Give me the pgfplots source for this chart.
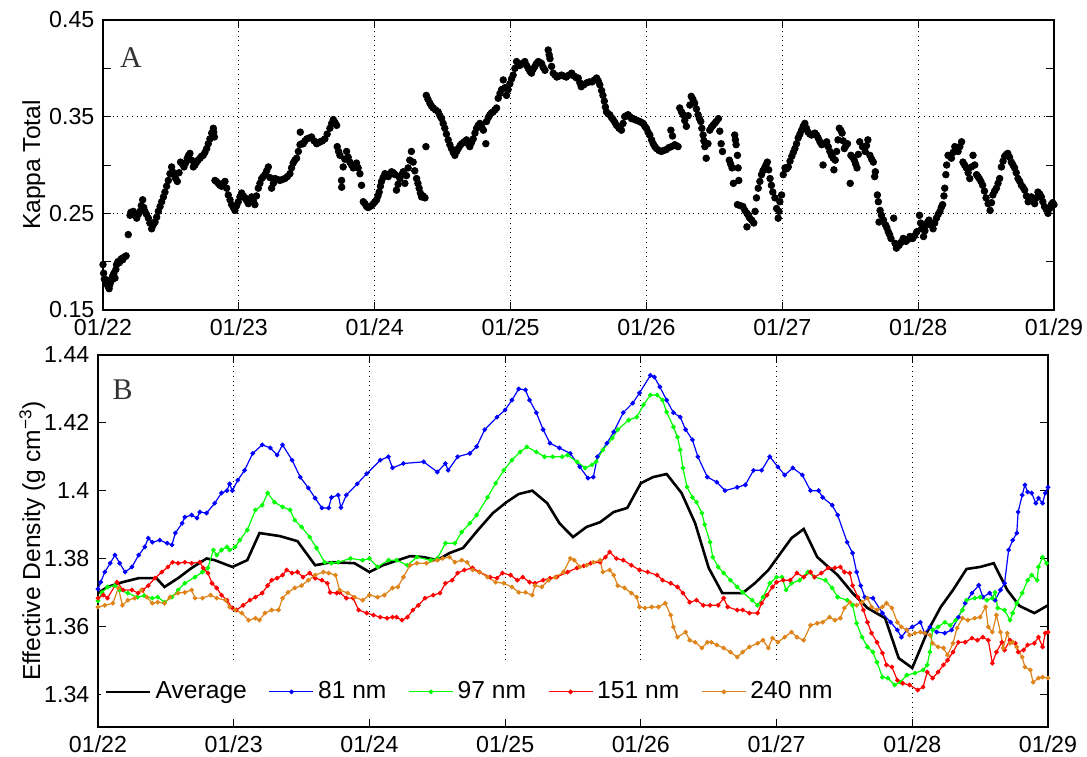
\documentclass[border=0pt]{standalone}
\usepackage{fontspec}
\setmainfont{Liberation Sans}
\newfontfamily\seriffont{Liberation Serif}
\usepackage{pgfplots}
\pgfplotsset{compat=1.18}
\definecolor{c81}{rgb}{0,0,1}
\definecolor{c97}{rgb}{0,1,0}
\definecolor{c151}{rgb}{1,0,0}
\definecolor{c240}{RGB}{222,132,26}
\newcommand{\tickfs}{\fontsize{11.6}{13}\selectfont}
\newcommand{\mainfs}{\fontsize{12.3}{14}\selectfont}

\pgfplotstableread{
x y
0.000 0.197
0.005 0.188
0.010 0.182
0.020 0.178
0.027 0.181
0.035 0.175
0.045 0.172
0.050 0.176
0.060 0.180
0.070 0.185
0.080 0.188
0.088 0.183
0.095 0.192
0.100 0.197
0.110 0.200
0.120 0.199
0.125 0.201
0.135 0.203
0.145 0.202
0.150 0.204
0.160 0.205
0.170 0.206
0.186 0.228
0.199 0.248
0.205 0.251
0.215 0.250
0.223 0.252
0.235 0.248
0.248 0.245
0.260 0.249
0.272 0.252
0.282 0.258
0.292 0.264
0.300 0.256
0.309 0.252
0.320 0.249
0.334 0.245
0.345 0.240
0.358 0.234
0.370 0.238
0.383 0.241
0.395 0.246
0.407 0.252
0.420 0.257
0.432 0.262
0.445 0.267
0.456 0.272
0.468 0.278
0.481 0.284
0.493 0.291
0.505 0.298
0.512 0.293
0.522 0.290
0.535 0.286
0.547 0.283
0.560 0.292
0.571 0.303
0.585 0.301
0.596 0.298
0.608 0.302
0.620 0.307
0.630 0.310
0.640 0.312
0.652 0.305
0.665 0.298
0.677 0.300
0.689 0.303
0.700 0.305
0.714 0.307
0.725 0.309
0.738 0.310
0.750 0.313
0.763 0.317
0.775 0.322
0.787 0.327
0.800 0.333
0.812 0.338
0.815 0.334
0.820 0.329
0.824 0.284
0.835 0.283
0.849 0.281
0.860 0.279
0.873 0.278
0.885 0.281
0.898 0.283
0.910 0.276
0.922 0.269
0.935 0.264
0.947 0.259
0.960 0.256
0.971 0.253
0.984 0.258
0.996 0.262
1.008 0.267
1.020 0.271
1.033 0.268
1.045 0.266
1.058 0.263
1.070 0.260
1.082 0.264
1.094 0.267
1.106 0.263
1.118 0.259
1.130 0.268
1.143 0.276
1.155 0.281
1.168 0.286
1.180 0.288
1.192 0.290
1.205 0.294
1.217 0.298
1.229 0.287
1.241 0.276
1.254 0.281
1.266 0.286
1.284 0.285
1.302 0.284
1.320 0.285
1.339 0.286
1.357 0.288
1.376 0.291
1.388 0.297
1.400 0.302
1.412 0.305
1.425 0.307
1.438 0.314
1.450 0.321
1.452 0.334
1.462 0.322
1.474 0.322
1.487 0.325
1.500 0.327
1.518 0.328
1.535 0.329
1.553 0.325
1.572 0.322
1.585 0.323
1.597 0.324
1.615 0.325
1.633 0.327
1.650 0.332
1.670 0.338
1.683 0.343
1.695 0.347
1.708 0.344
1.720 0.341
1.724 0.319
1.734 0.314
1.744 0.310
1.756 0.284
1.757 0.277
1.768 0.298
1.780 0.306
1.793 0.314
1.805 0.308
1.817 0.303
1.830 0.300
1.842 0.297
1.854 0.300
1.866 0.302
1.878 0.297
1.891 0.291
1.903 0.279
1.916 0.262
1.928 0.260
1.940 0.257
1.952 0.256
1.965 0.257
1.977 0.258
1.990 0.260
2.002 0.262
2.014 0.264
2.024 0.268
2.033 0.272
2.042 0.278
2.050 0.283
2.062 0.287
2.075 0.291
2.088 0.289
2.100 0.288
2.112 0.291
2.124 0.293
2.137 0.292
2.150 0.290
2.160 0.274
2.172 0.280
2.185 0.286
2.198 0.290
2.210 0.293
2.222 0.281
2.234 0.289
2.246 0.297
2.258 0.305
2.270 0.314
2.283 0.303
2.295 0.294
2.308 0.286
2.318 0.281
2.327 0.276
2.336 0.271
2.345 0.267
2.357 0.268
2.370 0.266
2.377 0.319
2.380 0.372
2.392 0.368
2.406 0.364
2.418 0.361
2.430 0.359
2.448 0.357
2.467 0.355
2.480 0.351
2.492 0.348
2.504 0.343
2.516 0.338
2.528 0.332
2.541 0.326
2.553 0.321
2.565 0.317
2.578 0.313
2.590 0.310
2.603 0.314
2.615 0.317
2.628 0.320
2.640 0.322
2.658 0.324
2.676 0.326
2.688 0.322
2.700 0.319
2.712 0.323
2.725 0.327
2.738 0.333
2.750 0.338
2.762 0.341
2.774 0.343
2.787 0.340
2.800 0.336
2.818 0.322
2.823 0.345
2.836 0.349
2.848 0.352
2.860 0.354
2.872 0.355
2.885 0.357
2.897 0.359
2.909 0.369
2.922 0.374
2.934 0.378
2.946 0.388
2.958 0.380
2.970 0.372
2.982 0.378
2.995 0.384
3.007 0.389
3.019 0.393
3.032 0.400
3.044 0.407
3.056 0.405
3.068 0.403
3.086 0.405
3.105 0.407
3.118 0.403
3.130 0.400
3.142 0.397
3.154 0.395
3.166 0.399
3.179 0.402
3.191 0.405
3.204 0.407
3.216 0.406
3.228 0.405
3.240 0.401
3.253 0.398
3.277 0.419
3.284 0.414
3.290 0.410
3.302 0.402
3.314 0.395
3.327 0.393
3.340 0.391
3.358 0.392
3.375 0.393
3.392 0.392
3.410 0.391
3.430 0.393
3.450 0.395
3.468 0.392
3.485 0.390
3.498 0.390
3.510 0.385
3.520 0.381
3.540 0.383
3.560 0.385
3.580 0.386
3.600 0.386
3.617 0.388
3.633 0.390
3.645 0.387
3.657 0.383
3.670 0.377
3.680 0.372
3.690 0.366
3.698 0.360
3.706 0.355
3.718 0.353
3.730 0.352
3.743 0.349
3.755 0.347
3.768 0.344
3.780 0.341
3.798 0.338
3.816 0.336
3.828 0.343
3.840 0.350
3.852 0.351
3.865 0.352
3.878 0.350
3.890 0.348
3.902 0.348
3.914 0.347
3.932 0.346
3.950 0.345
3.963 0.344
3.976 0.343
3.988 0.340
4.000 0.338
4.012 0.334
4.025 0.331
4.038 0.326
4.050 0.322
4.062 0.319
4.074 0.317
4.092 0.315
4.110 0.314
4.128 0.315
4.147 0.316
4.165 0.318
4.184 0.319
4.180 0.336
4.192 0.330
4.208 0.321
4.220 0.320
4.233 0.319
4.245 0.359
4.258 0.355
4.270 0.352
4.282 0.346
4.294 0.340
4.307 0.351
4.320 0.362
4.330 0.371
4.342 0.368
4.355 0.364
4.368 0.358
4.380 0.352
4.390 0.348
4.400 0.345
4.408 0.338
4.417 0.331
4.423 0.325
4.430 0.319
4.440 0.307
4.453 0.322
4.466 0.336
4.478 0.339
4.490 0.341
4.502 0.343
4.514 0.345
4.530 0.348
4.540 0.335
4.550 0.322
4.560 0.314
4.610 0.305
4.620 0.301
4.630 0.297
4.640 0.281
4.650 0.331
4.655 0.326
4.660 0.321
4.670 0.310
4.675 0.297
4.680 0.284
4.670 0.259
4.690 0.258
4.710 0.257
4.725 0.253
4.740 0.250
4.740 0.236
4.750 0.248
4.760 0.245
4.775 0.243
4.790 0.240
4.800 0.252
4.810 0.266
4.823 0.276
4.835 0.283
4.847 0.290
4.858 0.294
4.870 0.297
4.880 0.300
4.890 0.303
4.900 0.295
4.910 0.286
4.920 0.279
4.930 0.272
4.946 0.266
4.958 0.255
4.970 0.245
4.976 0.252
4.982 0.262
4.995 0.269
5.007 0.290
5.020 0.297
5.032 0.296
5.044 0.298
5.057 0.304
5.070 0.309
5.081 0.313
5.093 0.317
5.105 0.322
5.117 0.328
5.130 0.332
5.142 0.336
5.154 0.340
5.166 0.343
5.178 0.338
5.190 0.334
5.203 0.332
5.215 0.331
5.228 0.332
5.240 0.333
5.252 0.331
5.264 0.328
5.277 0.324
5.290 0.321
5.300 0.300
5.310 0.322
5.327 0.324
5.338 0.319
5.350 0.314
5.362 0.310
5.375 0.307
5.380 0.295
5.390 0.305
5.400 0.314
5.410 0.326
5.420 0.338
5.430 0.336
5.440 0.333
5.448 0.325
5.457 0.317
5.468 0.320
5.480 0.322
5.500 0.281
5.505 0.310
5.518 0.308
5.530 0.305
5.540 0.301
5.550 0.297
5.560 0.311
5.570 0.324
5.590 0.319
5.610 0.314
5.620 0.320
5.630 0.326
5.645 0.310
5.658 0.306
5.670 0.303
5.680 0.288
5.685 0.293
5.700 0.269
5.707 0.262
5.712 0.241
5.720 0.253
5.730 0.248
5.745 0.243
5.760 0.238
5.770 0.235
5.780 0.231
5.790 0.228
5.800 0.224
5.820 0.245
5.830 0.219
5.840 0.214
5.850 0.216
5.860 0.217
5.875 0.220
5.890 0.224
5.900 0.222
5.910 0.221
5.925 0.223
5.940 0.226
5.950 0.225
5.960 0.224
5.975 0.227
5.990 0.231
6.010 0.248
6.018 0.240
6.025 0.234
6.040 0.226
6.050 0.232
6.060 0.238
6.070 0.241
6.080 0.243
6.095 0.238
6.110 0.234
6.122 0.240
6.135 0.245
6.148 0.249
6.160 0.252
6.170 0.256
6.180 0.259
6.190 0.268
6.196 0.276
6.204 0.290
6.210 0.300
6.220 0.310
6.232 0.309
6.245 0.307
6.258 0.313
6.270 0.319
6.282 0.316
6.294 0.314
6.307 0.319
6.320 0.324
6.330 0.303
6.342 0.300
6.355 0.297
6.368 0.292
6.380 0.286
6.392 0.298
6.404 0.310
6.417 0.300
6.430 0.290
6.440 0.288
6.450 0.286
6.462 0.283
6.475 0.279
6.488 0.273
6.500 0.266
6.515 0.260
6.530 0.253
6.540 0.261
6.550 0.269
6.563 0.273
6.576 0.276
6.588 0.281
6.600 0.286
6.613 0.298
6.625 0.304
6.637 0.309
6.650 0.311
6.660 0.312
6.673 0.308
6.686 0.303
6.698 0.300
6.710 0.297
6.722 0.292
6.735 0.286
6.748 0.283
6.760 0.279
6.772 0.277
6.784 0.274
6.797 0.268
6.810 0.262
6.822 0.265
6.833 0.267
6.845 0.264
6.858 0.260
6.870 0.266
6.882 0.272
6.895 0.270
6.907 0.267
6.918 0.262
6.930 0.257
6.943 0.254
6.956 0.250
6.968 0.255
6.980 0.259
6.990 0.261
7.000 0.259
}\kappadata

\pgfplotstableread{
x y
0.00 1.3698
0.07 1.3716
0.18 1.3730
0.30 1.3742
0.43 1.3742
0.49 1.3716
0.59 1.3742
0.69 1.3772
0.80 1.3800
0.86 1.3795
0.99 1.3775
1.10 1.3795
1.19 1.3875
1.34 1.3866
1.47 1.3851
1.60 1.3780
1.72 1.3789
1.89 1.3786
2.00 1.3760
2.10 1.3780
2.30 1.3807
2.40 1.3804
2.50 1.3795
2.59 1.3816
2.69 1.3831
2.80 1.3884
2.91 1.3934
3.01 1.3966
3.10 1.3990
3.20 1.4000
3.31 1.3963
3.40 1.3904
3.50 1.3863
3.60 1.3893
3.70 1.3907
3.80 1.3937
3.90 1.3949
4.00 1.4022
4.09 1.4040
4.19 1.4049
4.30 1.3993
4.40 1.3904
4.50 1.3772
4.60 1.3698
4.75 1.3698
4.84 1.3727
4.94 1.3766
5.03 1.3816
5.11 1.3860
5.20 1.3887
5.30 1.3804
5.45 1.3751
5.56 1.3698
5.67 1.3654
5.80 1.3624
5.90 1.3506
6.00 1.3477
6.11 1.3583
6.21 1.3657
6.30 1.3707
6.40 1.3769
6.50 1.3775
6.60 1.3786
6.70 1.3707
6.79 1.3660
6.90 1.3639
7.00 1.3662
}\avgdata

\pgfplotstableread{
x y
0.00 1.3710
0.02 1.3730
0.05 1.3760
0.09 1.3786
0.125 1.3810
0.16 1.3786
0.20 1.3760
0.25 1.3775
0.30 1.3810
0.345 1.3834
0.37 1.3860
0.40 1.3848
0.455 1.3854
0.51 1.3845
0.545 1.3840
0.57 1.3875
0.62 1.3904
0.64 1.3922
0.69 1.3928
0.73 1.3919
0.75 1.3937
0.80 1.3934
0.86 1.3963
0.91 1.3993
0.95 1.4000
0.97 1.4020
0.99 1.4000
1.03 1.4031
1.08 1.4060
1.14 1.4110
1.21 1.4135
1.27 1.4126
1.32 1.4105
1.36 1.4135
1.43 1.4090
1.49 1.4040
1.55 1.4008
1.60 1.3978
1.65 1.3949
1.70 1.3949
1.72 1.3980
1.77 1.3987
1.79 1.3950
1.83 1.3987
1.91 1.4020
1.98 1.4050
2.08 1.4090
2.14 1.4100
2.17 1.4067
2.25 1.4080
2.40 1.4085
2.50 1.4055
2.56 1.4080
2.58 1.4060
2.65 1.4100
2.74 1.4110
2.79 1.4130
2.85 1.4180
2.94 1.4217
3.00 1.4238
3.05 1.4267
3.10 1.4300
3.15 1.4297
3.18 1.4267
3.23 1.4230
3.28 1.4180
3.33 1.4140
3.40 1.4126
3.48 1.4110
3.55 1.4070
3.61 1.4037
3.65 1.4040
3.68 1.4100
3.75 1.4140
3.80 1.4173
3.87 1.4230
3.94 1.4258
3.99 1.4288
4.07 1.4340
4.10 1.4335
4.14 1.4306
4.19 1.4267
4.24 1.4230
4.29 1.4217
4.33 1.4180
4.38 1.4150
4.42 1.4100
4.49 1.4040
4.56 1.4025
4.62 1.4000
4.71 1.4010
4.77 1.4017
4.83 1.4060
4.89 1.4060
4.95 1.4100
5.01 1.4070
5.06 1.4046
5.12 1.4067
5.19 1.4046
5.25 1.4000
5.31 1.4000
5.34 1.3980
5.41 1.3957
5.45 1.3928
5.52 1.3848
5.56 1.3816
5.59 1.3760
5.62 1.3720
5.65 1.3686
5.71 1.3683
5.78 1.3639
5.84 1.3612
5.89 1.3589
5.92 1.3568
5.96 1.3589
6.00 1.3598
6.06 1.3612
6.09 1.3580
6.13 1.3598
6.18 1.3583
6.24 1.3580
6.29 1.3589
6.34 1.3627
6.39 1.3668
6.44 1.3698
6.49 1.3721
6.52 1.3686
6.57 1.3698
6.61 1.3677
6.65 1.3707
6.68 1.3727
6.71 1.3825
6.74 1.3854
6.77 1.3875
6.78 1.3937
6.81 1.3987
6.83 1.4017
6.85 1.3996
6.88 1.3993
6.91 1.3963
6.93 1.3978
6.96 1.3963
6.98 1.3993
7.00 1.4010
}\blue

\pgfplotstableread{
x y
0.00 1.3675
0.03 1.3700
0.07 1.3716
0.125 1.3720
0.16 1.3707
0.22 1.3698
0.29 1.3686
0.34 1.3690
0.40 1.3683
0.44 1.3686
0.49 1.3671
0.545 1.3686
0.59 1.3707
0.64 1.3727
0.715 1.3745
0.77 1.3760
0.81 1.3772
0.85 1.3825
0.875 1.3810
0.91 1.3825
0.95 1.3834
0.97 1.3825
1.01 1.3834
1.045 1.3854
1.10 1.3884
1.16 1.3943
1.21 1.3957
1.25 1.3993
1.30 1.3966
1.36 1.3952
1.415 1.3943
1.45 1.3913
1.50 1.3893
1.56 1.3863
1.61 1.3831
1.67 1.3789
1.72 1.3786
1.77 1.3789
1.86 1.3800
1.95 1.3795
2.00 1.3800
2.06 1.3775
2.14 1.3795
2.20 1.3795
2.28 1.3780
2.35 1.3804
2.45 1.3795
2.50 1.3800
2.56 1.3845
2.63 1.3845
2.68 1.3878
2.74 1.3904
2.79 1.3928
2.87 1.3980
2.93 1.4022
2.99 1.4060
3.05 1.4090
3.11 1.4114
3.16 1.4129
3.23 1.4114
3.29 1.4100
3.35 1.4100
3.42 1.4100
3.46 1.4105
3.53 1.4085
3.59 1.4067
3.64 1.4076
3.67 1.4085
3.72 1.4120
3.79 1.4155
3.83 1.4180
3.91 1.4208
3.97 1.4217
4.02 1.4253
4.07 1.4282
4.12 1.4282
4.16 1.4267
4.19 1.4232
4.24 1.4188
4.27 1.4158
4.29 1.4120
4.31 1.4067
4.34 1.4011
4.38 1.3980
4.41 1.3966
4.45 1.3934
4.47 1.3900
4.51 1.3848
4.53 1.3804
4.57 1.3775
4.61 1.3757
4.66 1.3736
4.71 1.3716
4.75 1.3700
4.82 1.3677
4.86 1.3662
4.90 1.3686
4.95 1.3727
5.00 1.3745
5.04 1.3745
5.07 1.3707
5.11 1.3727
5.17 1.3736
5.23 1.3760
5.28 1.3745
5.36 1.3736
5.41 1.3713
5.45 1.3686
5.52 1.3677
5.56 1.3662
5.59 1.3609
5.63 1.3568
5.67 1.3539
5.71 1.3524
5.74 1.3494
5.78 1.3450
5.82 1.3447
5.87 1.3427
5.91 1.3435
5.96 1.3456
6.02 1.3462
6.08 1.3471
6.11 1.3486
6.13 1.3524
6.15 1.3589
6.19 1.3598
6.24 1.3612
6.28 1.3603
6.32 1.3618
6.37 1.3648
6.40 1.3677
6.46 1.3683
6.50 1.3686
6.55 1.3677
6.59 1.3683
6.61 1.3700
6.63 1.3654
6.68 1.3648
6.72 1.3618
6.74 1.3639
6.77 1.3668
6.81 1.3698
6.85 1.3736
6.88 1.3751
6.92 1.3736
6.93 1.3775
6.96 1.3804
6.99 1.3786
}\green

\pgfplotstableread{
x y
0.00 1.3683
0.04 1.3692
0.07 1.3683
0.14 1.3730
0.185 1.3707
0.25 1.3707
0.295 1.3698
0.33 1.3707
0.37 1.3720
0.42 1.3742
0.47 1.3760
0.515 1.3775
0.55 1.3789
0.59 1.3786
0.64 1.3789
0.69 1.3786
0.75 1.3789
0.775 1.3772
0.81 1.3757
0.84 1.3727
0.875 1.3713
0.91 1.3692
0.95 1.3677
0.99 1.3654
1.02 1.3648
1.07 1.3662
1.12 1.3677
1.16 1.3686
1.21 1.3698
1.25 1.3720
1.28 1.3736
1.32 1.3742
1.36 1.3751
1.39 1.3766
1.43 1.3757
1.47 1.3760
1.51 1.3745
1.56 1.3757
1.60 1.3742
1.65 1.3736
1.69 1.3727
1.71 1.3700
1.76 1.3698
1.78 1.3700
1.83 1.3683
1.88 1.3683
1.92 1.3648
1.98 1.3639
2.03 1.3633
2.08 1.3627
2.13 1.3624
2.17 1.3627
2.20 1.3627
2.24 1.3618
2.28 1.3627
2.32 1.3648
2.36 1.3662
2.41 1.3683
2.47 1.3692
2.52 1.3698
2.56 1.3727
2.61 1.3736
2.65 1.3757
2.70 1.3766
2.76 1.3772
2.81 1.3760
2.89 1.3745
2.94 1.3742
2.98 1.3757
3.04 1.3751
3.09 1.3736
3.13 1.3745
3.18 1.3730
3.22 1.3727
3.28 1.3736
3.33 1.3742
3.38 1.3745
3.46 1.3760
3.53 1.3772
3.58 1.3778
3.63 1.3786
3.70 1.3789
3.74 1.3804
3.77 1.3819
3.82 1.3800
3.87 1.3795
3.93 1.3780
3.99 1.3766
4.05 1.3760
4.12 1.3751
4.16 1.3736
4.22 1.3727
4.27 1.3716
4.31 1.3698
4.36 1.3671
4.41 1.3677
4.46 1.3662
4.51 1.3662
4.57 1.3662
4.61 1.3683
4.64 1.3657
4.71 1.3648
4.75 1.3648
4.80 1.3639
4.86 1.3639
4.89 1.3668
4.93 1.3692
4.97 1.3716
5.00 1.3730
5.05 1.3736
5.10 1.3736
5.15 1.3757
5.20 1.3745
5.25 1.3760
5.28 1.3745
5.33 1.3757
5.38 1.3772
5.43 1.3772
5.47 1.3775
5.50 1.3760
5.54 1.3757
5.56 1.3720
5.60 1.3686
5.64 1.3648
5.67 1.3612
5.70 1.3580
5.74 1.3553
5.78 1.3521
5.81 1.3486
5.85 1.3480
5.89 1.3441
5.93 1.3432
5.98 1.3427
6.04 1.3412
6.08 1.3421
6.11 1.3465
6.15 1.3447
6.19 1.3465
6.23 1.3486
6.26 1.3500
6.30 1.3524
6.34 1.3553
6.39 1.3553
6.44 1.3565
6.48 1.3559
6.52 1.3568
6.56 1.3559
6.59 1.3491
6.62 1.3524
6.66 1.3553
6.68 1.3530
6.72 1.3559
6.76 1.3550
6.78 1.3524
6.82 1.3530
6.85 1.3545
6.90 1.3550
6.93 1.3568
6.96 1.3539
6.98 1.3580
7.00 1.3583
}\red

\pgfplotstableread{
x y
0.00 1.3657
0.05 1.3662
0.11 1.3668
0.15 1.3713
0.18 1.3662
0.22 1.3677
0.27 1.3683
0.32 1.3707
0.36 1.3686
0.40 1.3668
0.44 1.3671
0.49 1.3668
0.53 1.3686
0.59 1.3698
0.64 1.3700
0.69 1.3707
0.715 1.3683
0.77 1.3683
0.83 1.3692
0.875 1.3683
0.94 1.3677
0.97 1.3657
1.01 1.3648
1.06 1.3639
1.11 1.3618
1.16 1.3624
1.19 1.3618
1.23 1.3639
1.28 1.3648
1.33 1.3648
1.36 1.3683
1.40 1.3700
1.45 1.3713
1.50 1.3720
1.55 1.3736
1.60 1.3751
1.66 1.3760
1.70 1.3757
1.75 1.3751
1.78 1.3707
1.84 1.3698
1.89 1.3686
1.95 1.3677
2.00 1.3692
2.06 1.3686
2.11 1.3692
2.17 1.3713
2.21 1.3716
2.25 1.3745
2.30 1.3780
2.35 1.3786
2.42 1.3786
2.50 1.3795
2.54 1.3800
2.59 1.3804
2.63 1.3789
2.68 1.3795
2.72 1.3789
2.76 1.3766
2.81 1.3760
2.87 1.3745
2.93 1.3730
2.99 1.3727
3.05 1.3716
3.10 1.3700
3.15 1.3700
3.20 1.3692
3.22 1.3720
3.27 1.3716
3.32 1.3736
3.37 1.3745
3.43 1.3760
3.48 1.3800
3.51 1.3795
3.55 1.3775
3.60 1.3780
3.65 1.3789
3.70 1.3795
3.72 1.3760
3.77 1.3766
3.80 1.3751
3.83 1.3720
3.88 1.3713
3.93 1.3698
3.97 1.3686
3.99 1.3657
4.03 1.3654
4.08 1.3657
4.13 1.3657
4.18 1.3668
4.22 1.3633
4.24 1.3598
4.27 1.3568
4.33 1.3583
4.36 1.3559
4.40 1.3553
4.45 1.3536
4.49 1.3553
4.52 1.3553
4.56 1.3545
4.61 1.3536
4.66 1.3524
4.71 1.3509
4.75 1.3524
4.80 1.3539
4.86 1.3550
4.90 1.3559
4.94 1.3536
4.97 1.3565
5.01 1.3553
5.06 1.3568
5.11 1.3583
5.15 1.3568
5.20 1.3559
5.25 1.3603
5.30 1.3609
5.34 1.3612
5.39 1.3627
5.43 1.3618
5.47 1.3624
5.50 1.3654
5.54 1.3671
5.59 1.3662
5.63 1.3671
5.67 1.3683
5.70 1.3657
5.74 1.3648
5.78 1.3657
5.81 1.3668
5.85 1.3654
5.89 1.3612
5.92 1.3598
5.96 1.3589
5.98 1.3574
6.02 1.3580
6.06 1.3583
6.09 1.3580
6.13 1.3574
6.15 1.3550
6.19 1.3539
6.23 1.3536
6.26 1.3515
6.30 1.3550
6.33 1.3595
6.37 1.3624
6.41 1.3618
6.46 1.3624
6.50 1.3627
6.54 1.3657
6.56 1.3598
6.59 1.3583
6.62 1.3633
6.65 1.3583
6.67 1.3536
6.70 1.3580
6.72 1.3550
6.74 1.3553
6.77 1.3539
6.81 1.3509
6.83 1.3480
6.87 1.3471
6.89 1.3435
6.93 1.3447
6.96 1.3450
7.00 1.3447
}\orange

\begin{document}
\mainfs
\begin{tikzpicture}
\useasboundingbox (0,0) rectangle (543.5pt,-378pt);
\pgfplotsset{
  common/.style={
    scale only axis,
    xmin=0, xmax=7,
    xtick={0,1,2,3,4,5,6,7},
    xticklabels={01/22,01/23,01/24,01/25,01/26,01/27,01/28,01/29},
    tick align=inside,
    major tick length=4pt, minor tick length=4pt,
    tick style={black, line width=0.5pt},
    axis line style={line width=0.6pt},
    xmajorgrids,
    grid style={black, dotted, line width=0.45pt},
    tick label style={font=\tickfs},
    label style={font=\mainfs},
    /pgf/number format/assume math mode=true,
    clip=true,
  }
}
\begin{axis}[common,
  at={(51.5pt,-10pt)}, anchor=north west,
  width=475.5pt, height=145pt,
  ymin=0.15, ymax=0.45,
  ytick={0.15,0.25,0.35,0.45},
  yticklabels={0.15,0.25,0.35,0.45},
  minor ytick={0.2,0.3,0.4},
  ymajorgrids,
  ylabel={Kappa Total},
  ylabel style={at={(axis description cs:-0.066,0.5)}, anchor=base},
  xticklabel style={yshift=0pt},
]
\addplot[only marks, mark=*, mark size=1.65pt, black, mark options={fill=black, draw=black}] table[x=x,y=y] {\kappadata};
\node[font=\seriffont\fontsize{15}{15}\selectfont, text=black!80] at (rel axis cs:0.0294,0.872) {A};
\end{axis}

\begin{axis}[common,
  at={(49pt,-177.5pt)}, anchor=north west,
  width=475pt, height=186pt,
  ymin=1.3303, ymax=1.44,
  ytick={1.34,1.36,1.38,1.40,1.42,1.44},
  yticklabels={1.34,1.36,1.38,1.4,1.42,1.44},
  ylabel={Effective Density (g cm\textsuperscript{−3})},
  ylabel style={at={(axis description cs:-0.061,0.5)}, anchor=base},
  legend columns=-1,
  legend cell align=left,
  legend style={at={(axis cs:0.02,1.3324)}, anchor=south west, draw=none, fill=white,
    font=\mainfs, inner xsep=2pt, inner ysep=6.6pt,
    /tikz/every even column/.append style={column sep=9pt}},
  legend image code/.code={\draw[mark repeat=2,mark phase=2,#1] plot coordinates {(0pt,0pt) (11pt,0pt) (22pt,0pt)};},
]
\addplot[black, line width=1.3pt, no markers] table[x=x,y=y] {\avgdata};
\addlegendentry{Average}
\addplot[c81, line width=0.6pt, mark=*, mark size=0.85pt] table[x=x,y=y] {\blue};
\addlegendentry{81 nm}
\addplot[c97, line width=0.6pt, mark=*, mark size=0.85pt] table[x=x,y=y] {\green};
\addlegendentry{97 nm}
\addplot[c151, line width=0.6pt, mark=*, mark size=0.85pt] table[x=x,y=y] {\red};
\addlegendentry{151 nm}
\addplot[c240, line width=0.6pt, mark=*, mark size=0.85pt] table[x=x,y=y] {\orange};
\addlegendentry{240 nm}
\node[font=\seriffont\fontsize{15}{15}\selectfont, text=black!80] at (rel axis cs:0.026,0.906) {B};
\end{axis}
\end{tikzpicture}
\end{document}
